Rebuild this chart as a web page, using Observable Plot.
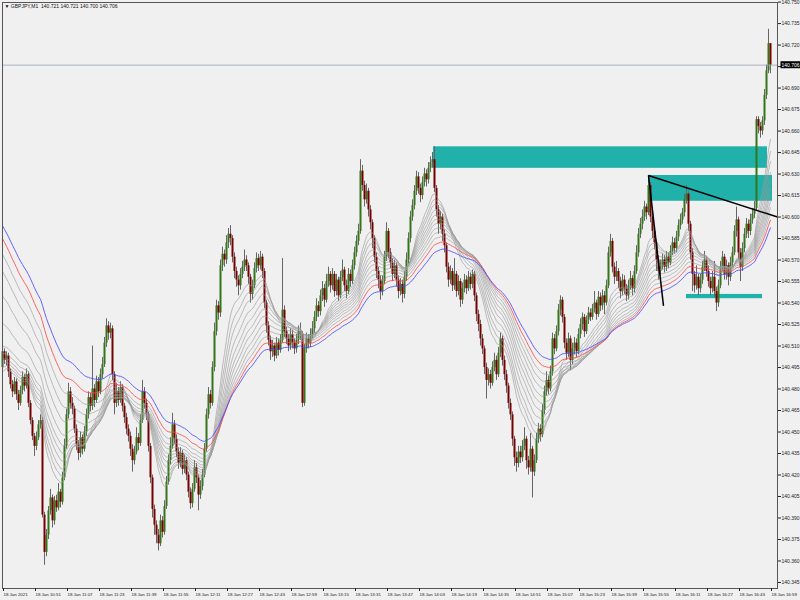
<!DOCTYPE html>
<html><head><meta charset="utf-8">
<script src="https://cdn.jsdelivr.net/npm/d3@7"></script>
<script src="https://cdn.jsdelivr.net/npm/@observablehq/plot@0.6"></script>
<style>
html,body{margin:0;padding:0;background:#f0f0f0;}
#chart{width:800px;height:600px;overflow:hidden;}
</style></head><body><div id="chart"></div>
<script>
const symbolTitle = "▼ GBPJPY,M1  140.721 140.721 140.700 140.706";
const bid = 140.706;
const firstOpen = 140.495;

// M1 bars 10:35 … 16:59 (index = minutes since 10:35)
const close = [
140.506,140.500,140.503,140.492,140.483,140.478,140.485,140.476,140.470,140.479,
140.488,140.482,140.490,140.470,140.458,140.447,140.440,140.446,140.455,140.458,
140.392,140.366,140.378,140.395,140.404,140.388,140.402,140.397,140.408,140.401,
140.418,140.440,140.462,140.478,140.470,140.466,140.452,140.441,140.435,140.446,
140.438,140.450,140.462,140.474,140.468,140.480,140.472,140.485,140.478,140.490,
140.497,140.512,140.524,140.519,140.522,140.490,140.470,140.478,140.472,140.481,
140.468,140.460,140.452,140.447,140.438,140.430,140.436,140.446,140.442,140.458,
140.478,140.470,140.462,140.440,140.418,140.396,140.385,140.378,140.372,140.388,
140.380,140.398,140.415,140.430,140.440,140.455,140.445,140.436,140.428,140.435,
140.424,140.430,140.420,140.408,140.400,140.410,140.425,140.418,140.406,140.412,
140.420,140.438,140.462,140.476,140.470,140.495,140.520,140.538,140.533,140.566,
140.574,140.570,140.582,140.588,140.585,140.572,140.562,140.556,140.552,140.560,
140.565,140.570,140.566,140.558,140.546,140.552,140.564,140.571,140.566,140.572,
140.562,140.540,140.524,140.514,140.506,140.510,140.503,140.512,140.507,140.514,
140.535,140.520,140.515,140.510,140.518,140.512,140.508,140.514,140.520,140.518,
140.470,140.508,140.515,140.512,140.518,140.522,140.530,140.538,140.534,140.545,
140.550,140.542,140.555,140.560,140.552,140.560,140.548,140.556,140.545,140.558,
140.563,140.552,140.548,140.560,140.555,140.566,140.575,140.583,140.590,140.632,
140.622,140.612,140.618,140.605,140.596,140.585,140.572,140.562,140.556,140.548,
140.555,140.572,140.590,140.575,140.568,140.560,140.566,140.556,140.548,140.553,
140.546,140.558,140.570,140.585,140.600,140.608,140.618,140.628,140.620,140.615,
140.624,140.630,140.626,140.634,140.638,140.640,140.620,140.605,140.595,140.600,
140.588,140.580,140.565,140.556,140.562,140.552,140.560,140.548,140.555,140.542,
140.550,140.556,140.550,140.558,140.553,140.560,140.545,140.532,140.525,140.515,
140.508,140.495,140.486,140.490,140.484,140.495,140.500,140.490,140.505,140.515,
140.500,140.490,140.482,140.470,140.462,140.445,140.432,140.428,140.436,140.432,
140.440,140.445,140.430,140.425,140.438,140.422,140.430,140.445,140.452,140.448,
140.465,140.478,140.486,140.480,140.492,140.515,140.508,140.520,140.535,140.542,
140.530,140.512,140.505,140.515,140.500,140.508,140.512,140.506,140.518,140.525,
140.530,140.520,140.528,140.533,140.530,140.536,140.540,140.532,140.544,140.538,
140.545,140.540,140.552,140.575,140.583,140.565,140.558,140.562,140.555,140.548,
140.556,140.550,140.545,140.552,140.557,140.550,140.562,140.575,140.588,140.595,
140.600,140.607,140.603,140.622,140.600,140.590,140.582,140.570,140.562,140.566,
140.570,140.565,140.572,140.568,140.576,140.582,140.578,140.586,140.594,140.598,
140.603,140.612,140.616,140.595,140.575,140.560,140.552,140.558,140.550,140.556,
140.565,140.570,140.562,140.555,140.550,140.558,140.548,140.540,140.552,140.565,
140.572,140.560,140.566,140.558,140.568,140.575,140.590,140.598,140.575,140.565,
140.578,140.588,140.595,140.590,140.598,140.602,140.606,140.668,140.663,140.660,
140.667,140.685,140.702,140.721,140.706];

const high = [
140.511,140.508,140.506,140.505,140.494,140.486,140.488,140.487,140.479,140.482,
140.492,140.490,140.494,140.492,140.472,140.460,140.449,140.450,140.458,140.462,
140.460,140.394,140.382,140.398,140.410,140.406,140.405,140.406,140.414,140.410,
140.422,140.445,140.466,140.484,140.481,140.474,140.468,140.455,140.444,140.450,
140.448,140.454,140.466,140.478,140.477,140.510,140.483,140.489,140.488,140.494,
140.502,140.516,140.529,140.527,140.526,140.524,140.492,140.484,140.481,140.485,
140.483,140.470,140.463,140.455,140.450,140.441,140.440,140.453,140.449,140.462,
140.486,140.481,140.473,140.464,140.442,140.420,140.399,140.388,140.382,140.392,
140.391,140.402,140.419,140.434,140.446,140.463,140.458,140.448,140.439,140.439,
140.437,140.434,140.432,140.422,140.411,140.414,140.430,140.428,140.420,140.416,
140.424,140.442,140.466,140.481,140.479,140.499,140.526,140.542,140.541,140.570,
140.579,140.577,140.587,140.592,140.594,140.587,140.575,140.565,140.559,140.564,
140.569,140.577,140.573,140.568,140.560,140.556,140.568,140.575,140.574,140.576,
140.574,140.564,140.542,140.527,140.517,140.514,140.512,140.516,140.515,140.518,
140.571,140.538,140.523,140.518,140.522,140.521,140.515,140.518,140.524,140.526,
140.520,140.511,140.519,140.518,140.522,140.527,140.534,140.543,140.541,140.549,
140.555,140.553,140.560,140.565,140.562,140.564,140.562,140.560,140.558,140.562,
140.570,140.565,140.556,140.564,140.563,140.570,140.579,140.587,140.595,140.640,
140.636,140.625,140.623,140.620,140.608,140.598,140.587,140.575,140.565,140.559,
140.559,140.576,140.596,140.592,140.578,140.571,140.570,140.568,140.559,140.557,
140.556,140.562,140.575,140.589,140.604,140.612,140.622,140.632,140.631,140.623,
140.628,140.634,140.633,140.638,140.642,140.645,140.649,140.622,140.608,140.604,
140.602,140.591,140.582,140.568,140.566,140.564,140.571,140.562,140.559,140.557,
140.554,140.560,140.559,140.562,140.561,140.563,140.562,140.547,140.535,140.528,
140.518,140.510,140.498,140.494,140.493,140.499,140.505,140.503,140.509,140.519,
140.517,140.503,140.493,140.484,140.473,140.464,140.447,140.436,140.440,140.440,
140.444,140.453,140.447,140.433,140.449,140.440,140.434,140.449,140.456,140.455,
140.469,140.482,140.492,140.489,140.496,140.519,140.518,140.524,140.539,140.545,
140.544,140.532,140.515,140.519,140.517,140.512,140.516,140.515,140.522,140.529,
140.533,140.532,140.531,140.537,140.536,140.539,140.548,140.542,140.548,140.547,
140.549,140.548,140.556,140.579,140.588,140.585,140.568,140.569,140.564,140.558,
140.560,140.559,140.553,140.556,140.562,140.559,140.566,140.580,140.592,140.599,
140.605,140.611,140.609,140.629,140.624,140.603,140.593,140.584,140.573,140.570,
140.574,140.573,140.576,140.575,140.580,140.586,140.585,140.590,140.598,140.602,
140.606,140.616,140.622,140.618,140.597,140.578,140.562,140.566,140.560,140.560,
140.569,140.576,140.572,140.566,140.558,140.562,140.569,140.551,140.556,140.569,
140.576,140.574,140.570,140.568,140.572,140.579,140.594,140.607,140.600,140.578,
140.582,140.592,140.599,140.598,140.602,140.606,140.611,140.670,140.670,140.666,
140.670,140.689,140.706,140.731,140.721];

const low = [
140.489,140.497,140.496,140.488,140.480,140.474,140.476,140.472,140.465,140.468,
140.476,140.478,140.480,140.467,140.455,140.444,140.433,140.437,140.444,140.452,
140.390,140.357,140.363,140.375,140.392,140.383,140.385,140.394,140.395,140.397,
140.399,140.416,140.438,140.459,140.466,140.462,140.449,140.437,140.430,140.432,
140.434,140.436,140.447,140.459,140.464,140.465,140.467,140.470,140.474,140.476,
140.487,140.495,140.509,140.514,140.515,140.486,140.462,140.467,140.468,140.470,
140.464,140.456,140.448,140.443,140.433,140.422,140.427,140.434,140.437,140.440,
140.456,140.466,140.458,140.436,140.414,140.390,140.378,140.372,140.367,140.370,
140.376,140.378,140.396,140.413,140.427,140.438,140.441,140.432,140.424,140.425,
140.420,140.421,140.416,140.404,140.396,140.397,140.408,140.414,140.395,140.403,
140.409,140.418,140.436,140.459,140.466,140.468,140.492,140.517,140.528,140.530,
140.562,140.565,140.567,140.578,140.580,140.568,140.557,140.551,140.545,140.549,
140.557,140.562,140.562,140.553,140.540,140.542,140.550,140.561,140.562,140.563,
140.557,140.536,140.519,140.510,140.500,140.502,140.499,140.501,140.503,140.505,
140.512,140.516,140.511,140.506,140.507,140.508,140.504,140.505,140.511,140.514,
140.467,140.468,140.505,140.508,140.509,140.515,140.519,140.527,140.530,140.531,
140.541,140.537,140.540,140.551,140.547,140.549,140.544,140.545,140.541,140.543,
140.555,140.548,140.543,140.546,140.551,140.553,140.563,140.572,140.580,140.588,
140.618,140.607,140.609,140.600,140.591,140.578,140.568,140.557,140.550,140.542,
140.545,140.553,140.569,140.571,140.564,140.555,140.557,140.551,140.543,140.545,
140.540,140.543,140.555,140.567,140.582,140.597,140.605,140.615,140.616,140.610,
140.612,140.621,140.621,140.623,140.631,140.634,140.617,140.600,140.588,140.591,
140.583,140.575,140.561,140.551,140.553,140.548,140.549,140.544,140.545,140.537,
140.539,140.547,140.546,140.548,140.549,140.550,140.541,140.527,140.520,140.510,
140.504,140.490,140.473,140.482,140.480,140.482,140.492,140.486,140.488,140.502,
140.496,140.486,140.477,140.466,140.458,140.440,140.426,140.422,140.425,140.428,
140.429,140.437,140.424,140.420,140.422,140.404,140.419,140.428,140.442,140.443,
140.446,140.462,140.475,140.476,140.478,140.489,140.504,140.506,140.517,140.531,
140.526,140.508,140.500,140.502,140.493,140.497,140.504,140.502,140.504,140.515,
140.521,140.516,140.518,140.525,140.527,140.528,140.533,140.528,140.530,140.534,
140.535,140.532,140.538,140.550,140.572,140.561,140.553,140.555,140.550,140.543,
140.545,140.546,140.541,140.542,140.549,140.545,140.547,140.560,140.572,140.585,
140.591,140.597,140.598,140.601,140.596,140.585,140.577,140.562,140.556,140.558,
140.563,140.561,140.562,140.564,140.566,140.573,140.574,140.575,140.583,140.591,
140.595,140.600,140.609,140.590,140.570,140.548,140.547,140.549,140.545,140.547,
140.553,140.562,140.558,140.551,140.545,140.547,140.544,140.534,140.537,140.550,
140.562,140.556,140.556,140.552,140.555,140.565,140.573,140.586,140.570,140.555,
140.562,140.575,140.585,140.585,140.587,140.595,140.599,140.604,140.658,140.655,
140.657,140.664,140.682,140.700,140.700];

// price axis ticks
const yTicks = [140.345,140.360,140.375,140.390,140.405,140.420,140.435,140.450,140.465,140.480,
140.495,140.510,140.525,140.540,140.555,140.570,140.585,140.600,140.615,140.630,140.645,140.660,
140.675,140.690,140.705,140.720,140.735,140.750];
// time axis ticks (bar index) and labels
const xTickBars = [0,16,32,48,64,80,96,112,128,144,160,176,192,208,224,240,256,272,288,304,320,336,352,368,384];
const xTickLabels = ["18 Jan 2021","18 Jan 10:51","18 Jan 11:07","18 Jan 11:23","18 Jan 11:39","18 Jan 11:55",
"18 Jan 12:11","18 Jan 12:27","18 Jan 12:43","18 Jan 12:59","18 Jan 13:15","18 Jan 13:31","18 Jan 13:47",
"18 Jan 14:03","18 Jan 14:19","18 Jan 14:35","18 Jan 14:51","18 Jan 15:07","18 Jan 15:23","18 Jan 15:39",
"18 Jan 15:55","18 Jan 16:11","18 Jan 16:27","18 Jan 16:43","18 Jan 16:59"];

// moving averages (periods, value at the first visible bar, colour)
const maPeriods = [15,18,21,25,29,33,37,42,47,53,60,70];
const maStart = [140.492,140.495,140.498,140.501,140.505,140.510,140.526,140.545,140.562,140.574,140.585,140.594];
const maColors = ["#9a9a9a","#9a9a9a","#9a9a9a","#9a9a9a","#9a9a9a","#9a9a9a","#9a9a9a","#9a9a9a","#9a9a9a","#9a9a9a","#ff4a4a","#4a4aff"];

// supply/demand rectangles
const zoneX1 = [215.5, 323, 342];
const zoneX2 = [382.5, 385, 380];
const zoneTop = [140.649, 140.629, 140.546];
const zoneBottom = [140.634, 140.611, 140.543];

// trend lines
const trendX1 = [323, 323];
const trendY1 = [140.629, 140.629];
const trendX2 = [387.5, 330.5];
const trendY2 = [140.600, 140.538];

const bars = close.map((c, i) => ({i, o: i ? close[i - 1] : firstOpen, h: high[i], l: low[i], c}));
const bull = bars.filter(d => d.c >= d.o);
const bear = bars.filter(d => d.c < d.o);

const maMarks = maPeriods.map((p, k) => {
  const a = 2 / (p + 1);
  let e = maStart[k];
  const pts = close.map((c, i) => { if (i > 0) e = e + a * (c - e); return {i, v: e}; });
  return Plot.line(pts, {x: "i", y: "v", stroke: maColors[k], strokeWidth: k < 10 ? 0.8 : 1, strokeOpacity: k < 10 ? 0.8 : 0.85});
});

const zones = zoneX1.map((_, j) => j);
const trends = trendX1.map((_, j) => j);

const svg = Plot.plot({
  width: 800, height: 600,
  marginLeft: 2, marginRight: 23, marginTop: 2, marginBottom: 12,
  style: {background: "#f0f0f0", fontFamily: "Liberation Sans, Arial, sans-serif", color: "#222"},
  x: {domain: [0, 387.5], axis: null},
  y: {domain: [140.3408, 140.7497], axis: null},
  marks: [
    Plot.rect(zones, {x1: j => zoneX1[j], x2: j => zoneX2[j], y1: j => zoneTop[j], y2: j => zoneBottom[j], fill: "#20b2aa"}),
    Plot.ruleX(bars, {x: "i", y1: "l", y2: "h", stroke: "#666", strokeWidth: 1}),
    Plot.ruleX(bull, {x: "i", y1: "o", y2: "c", stroke: "#34751a", strokeWidth: 2}),
    Plot.ruleX(bear, {x: "i", y1: "o", y2: "c", stroke: "#740000", strokeWidth: 2}),
    ...maMarks,
    Plot.link(trends, {x1: j => trendX1[j], y1: j => trendY1[j], x2: j => trendX2[j], y2: j => trendY2[j], stroke: "#000", strokeWidth: 1.5}),
    Plot.ruleY([bid], {stroke: "#97a5b3", strokeWidth: 0.8}),
    Plot.frame({stroke: "#555"}),
    Plot.axisY(yTicks, {anchor: "right", tickSize: 3, tickPadding: 1, tickFormat: d3.format(".3f"), fontSize: 5, label: null}),
    Plot.axisX(xTickBars, {anchor: "bottom", tickSize: 3, tickPadding: 1, textAnchor: "start", dx: 1,
      tickFormat: d => xTickLabels[xTickBars.indexOf(d)], fontSize: 4.4, label: null}),
    Plot.text([symbolTitle], {frameAnchor: "top-left", dx: 2, dy: 2, lineAnchor: "top", textAnchor: "start", fontSize: 5, fill: "#111"}),
    Plot.text([bid], {y: d => d, frameAnchor: "right", dx: 4, text: d => d.toFixed(3), fill: "#fff", fontSize: 5, textAnchor: "start", className: "bidlabel"})
  ]
});
document.getElementById("chart").append(svg);
const t = svg.querySelector(".bidlabel text");
if (t) {
  const b = t.getBBox();
  const r = document.createElementNS("http://www.w3.org/2000/svg", "rect");
  r.setAttribute("x", b.x - 1); r.setAttribute("y", b.y - 0.5);
  r.setAttribute("width", b.width + 2); r.setAttribute("height", b.height + 1);
  r.setAttribute("fill", "#000");
  const tr = t.getAttribute("transform"); if (tr) r.setAttribute("transform", tr);
  t.parentNode.insertBefore(r, t);
}
</script></body></html>
